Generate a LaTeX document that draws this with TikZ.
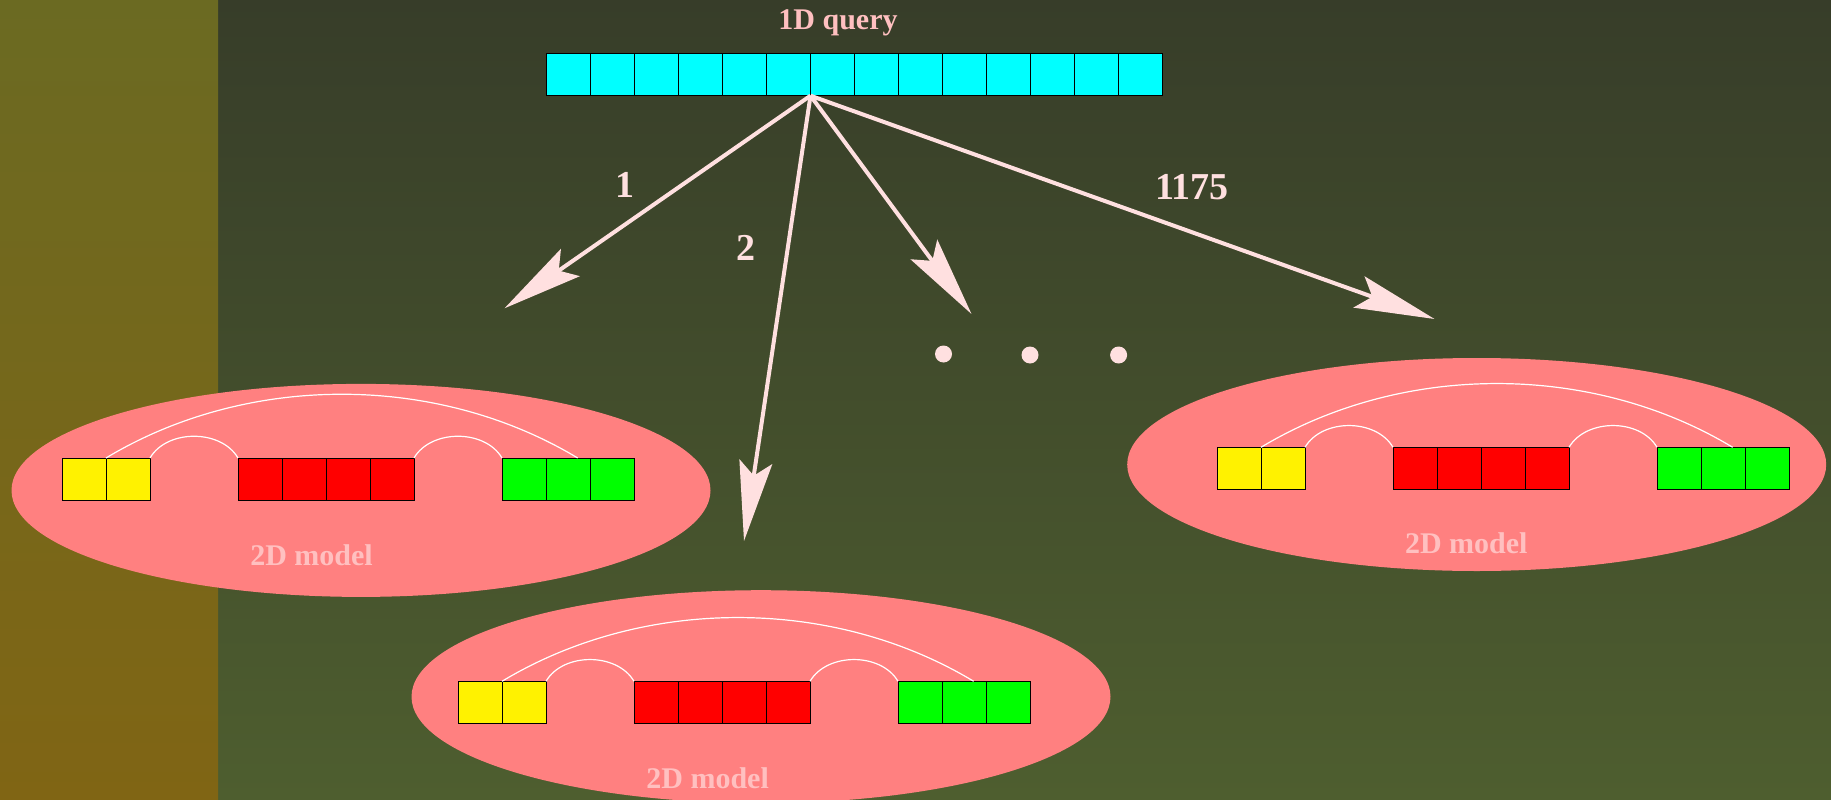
\documentclass[tikz,border=0pt]{standalone}
\usepackage{fontspec}
\setmainfont{Liberation Serif}
\usetikzlibrary{shapes.geometric,arrows.meta,calc}

\definecolor{bandtop}{RGB}{107,106,34}
\definecolor{bandbot}{RGB}{128,101,20}
\definecolor{bgtop}{RGB}{55,61,41}
\definecolor{bgbot}{RGB}{78,94,47}
\definecolor{blob}{RGB}{255,128,128}
\definecolor{ink}{RGB}{255,224,224}
\definecolor{caption}{RGB}{255,192,192}
\definecolor{qcell}{RGB}{0,255,255}

% One 2D model: ellipse, three blocks of cells, white links and a caption.
% #1 name, #2/#3 ellipse centre, #4 left edge of the yellow block,
% #5 top of the blocks, #6/#7 caption centre
\newcommand\modelunit[7]{%
  \node[model] (#1) at (#2,#3) {};
  \foreach \k in {1,2}
    \node[cell, fill=yellow] (#1y\k) at ({#4+44*(\k-1)},#5) {};
  \foreach \k in {1,...,4}
    \node[cell, fill=red] (#1r\k) at ({#4+176+44*(\k-1)},#5) {};
  \foreach \k in {1,...,3}
    \node[cell, fill=green] (#1g\k) at ({#4+440+44*(\k-1)},#5) {};
  \coordinate (#1end) at ($(#1g2.north west)!0.72!(#1g2.north east)$);
  \draw[link] (#1y1.north east) .. controls +(141,-85) and +(-141,-85) .. (#1end);
  \draw[link] (#1y2.north east) .. controls +(17,-29) and +(-17,-29) .. (#1r1.north west);
  \draw[link] (#1r4.north east) .. controls +(17,-29) and +(-17,-29) .. (#1g1.north west);
  \node[captext] (#1cap) at (#6,#7) {2D model};
}

\begin{document}
\begin{tikzpicture}[x=1pt,y=-1pt,
  cell/.style={draw=black, line width=0.8pt, minimum width=44pt, minimum height=42pt,
    inner sep=0pt, outer sep=0pt, anchor=north west},
  model/.style={ellipse, fill=blob, minimum width=699pt, minimum height=213pt, inner sep=0pt},
  ray/.style={draw=ink, line width=4pt, -{Stealth[length=80pt,width=33pt,inset=14pt]}},
  link/.style={draw=white, line width=1.2pt},
  captext/.style={text=caption, font=\fontsize{30}{36}\selectfont\bfseries, inner sep=0pt},
  num/.style={text=ink, font=\fontsize{38}{44}\selectfont\bfseries, inner sep=0pt},
  dot/.style={circle, fill=ink, minimum size=17pt, inner sep=0pt}]

  % background and left band
  \useasboundingbox (0,0) rectangle (1831,800);
  \shade[top color=bgtop, bottom color=bgbot] (0,0) rectangle (1831,800);
  \shade[top color=bandtop, bottom color=bandbot] (0,0) rectangle (218,800);

  % the 1D query
  \node[captext] (title) at (838,23) {1D query};
  \foreach \i in {1,...,14}
    \node[cell, fill=qcell] (q\i) at ({546.5+44*(\i-1)},53.7) {};

  % the 2D models
  \modelunit{ma}{361}{490.4}{62}{458}{311.5}{555}
  \modelunit{mb}{761}{696.7}{458}{681.3}{707.6}{778}
  \modelunit{mc}{1476.7}{464.5}{1217}{447.3}{1466.3}{543.7}

  % arrows from the query
  \coordinate (t1) at (504.5,308.3);
  \coordinate (t2) at (744,541);
  \coordinate (t3) at (971.5,314);
  \coordinate (t4) at (1434.5,319);
  \draw[ray] (q6.south east) -- (t1);
  \draw[ray] (q6.south east) -- (t2);
  \draw[ray] (q6.south east) -- (t3);
  \draw[ray] (q6.south east) -- (t4);

  \node[num] (n1) at (625,184.5) {1};
  \node[num] (n2) at (746,247.6) {2};
  \node[num] (n4) at (1192,186.8) {1175};

  % ellipsis dots
  \node[dot] (d1) at (943.5,354) {};
  \node[dot] (d2) at (1030,355) {};
  \node[dot] (d3) at (1118.6,355) {};
\end{tikzpicture}
\end{document}
